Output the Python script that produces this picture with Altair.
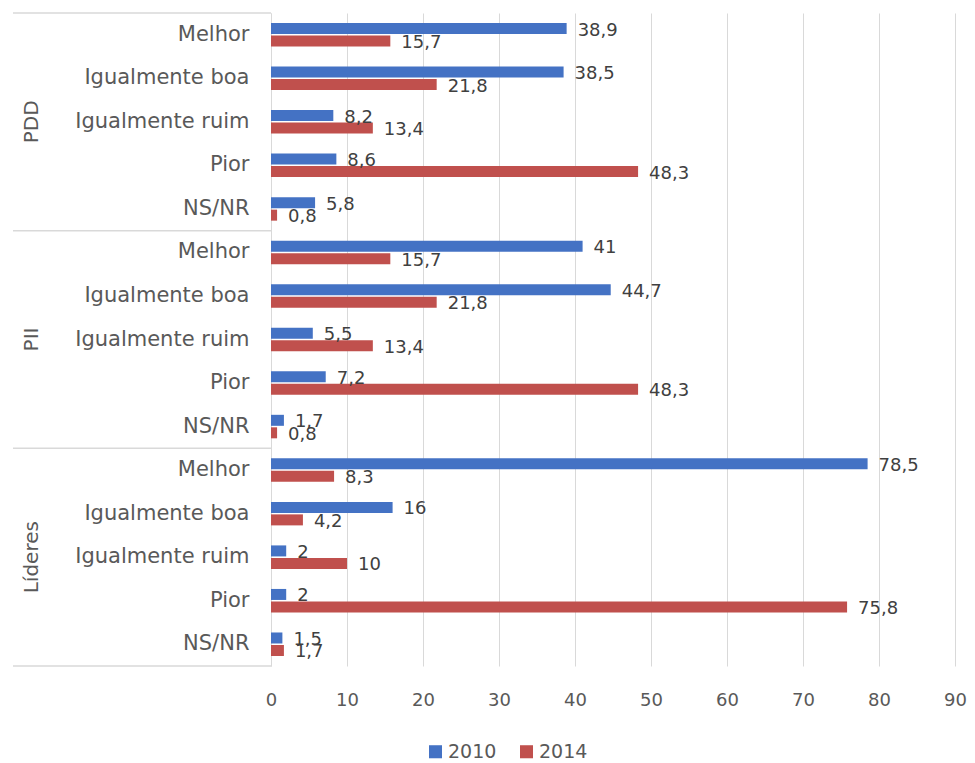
import altair as alt
import pandas as pd

groups = ["PDD", "PII", "Líderes"]
categories = ["Melhor", "Igualmente boa", "Igualmente ruim", "Pior", "NS/NR"]
series = ["2010", "2014"]
colors = ["#4472C4", "#C0504D"]
v2010 = [38.9, 38.5, 8.2, 8.6, 5.8,
         41, 44.7, 5.5, 7.2, 1.7,
         78.5, 16, 2, 2, 1.5]
v2014 = [15.7, 21.8, 13.4, 48.3, 0.8,
         15.7, 21.8, 13.4, 48.3, 0.8,
         8.3, 4.2, 10, 75.8, 1.7]
x_ticks = [0, 10, 20, 30, 40, 50, 60, 70, 80, 90]

FONT = "DejaVu Sans"
GRAY = "#595959"
LINE = "#d9d9d9"
W, H = 684, 653

keys = []
rows = []
for gi, g in enumerate(groups):
    for ci, c in enumerate(categories):
        k = f"{gi}{ci}|{c}"
        keys.append(k)
        idx = gi * len(categories) + ci
        for s, v in zip(series, [v2010[idx], v2014[idx]]):
            rows.append({"key": k, "group": g, "cat": c, "series": s,
                         "value": v, "label": f"{v:g}".replace(".", ",")})
df = pd.DataFrame(rows)

PI = 0.46
PO = PI / 2
step = H / len(keys)
ysc = alt.Scale(domain=keys, paddingInner=PI, paddingOuter=PO)
yoff = alt.YOffset("series:N", sort=series, scale=alt.Scale(domain=series, paddingInner=0.12))
xenc = alt.X("value:Q", scale=alt.Scale(domain=[0, 90]),
             axis=alt.Axis(values=x_ticks, grid=True, gridColor=LINE, domain=False,
                           ticks=False, labelPadding=25, labelFontSize=18, labelFlush=False,
                           labelColor=GRAY, labelFont=FONT, title=None))
yenc = alt.Y("key:N", scale=ysc, sort=keys,
             axis=alt.Axis(title=None, labelExpr="split(datum.label, '|')[1]",
                           labelFontSize=21, labelColor=GRAY, labelFont=FONT,
                           labelPadding=22, ticks=False, domain=True,
                           domainColor=LINE, grid=False))

bars = alt.Chart(df).mark_bar().encode(
    x=xenc, y=yenc, yOffset=yoff,
    color=alt.Color("series:N", scale=alt.Scale(domain=series, range=colors),
                    legend=alt.Legend(title=None, orient="none", direction="horizontal",
                                      legendX=155, legendY=729, symbolType="square",
                                      symbolSize=170, symbolStrokeWidth=0,
                                      labelFontSize=19, labelColor=GRAY, labelFont=FONT,
                                      labelOffset=3, columnPadding=20, symbolOffset=0))
)

texts = alt.Chart(df).mark_text(align="left", baseline="middle", dx=11, dy=2, fontSize=18,
                                 color="#404040", font=FONT).encode(
    x="value:Q", y=alt.Y("key:N", scale=ysc, sort=keys), yOffset=yoff, text="label:N"
)

# group separator lines
top_keys = [f"{gi}0|{categories[0]}" for gi in range(len(groups))]
last_key = [keys[-1]]
gap = PO * step
sep_top = alt.Chart(pd.DataFrame({"key": top_keys})).mark_rule(
    color=LINE, strokeWidth=1.5, yOffset=-gap).encode(
    y=alt.Y("key:N", scale=ysc, sort=keys, bandPosition=0),
    x=alt.value(-258), x2=alt.value(0)
)
sep_bot = alt.Chart(pd.DataFrame({"key": last_key})).mark_rule(
    color=LINE, strokeWidth=1.5, yOffset=gap).encode(
    y=alt.Y("key:N", scale=ysc, sort=keys, bandPosition=1),
    x=alt.value(-258), x2=alt.value(0)
)

mid_keys = [f"{gi}2|{categories[2]}" for gi in range(len(groups))]
glabels = alt.Chart(pd.DataFrame({"key": mid_keys, "group": groups})).mark_text(
    angle=270, align="center", baseline="middle", fontSize=20, color=GRAY, font=FONT
).encode(
    y=alt.Y("key:N", scale=ysc, sort=keys, bandPosition=0.5),
    x=alt.value(-239), text="group:N"
)

chart = alt.layer(bars, texts, sep_top, sep_bot, glabels).properties(
    width=W, height=H,
    padding={"left": 4, "top": 4, "right": 0, "bottom": 0}
).configure_view(stroke=None)

chart.save("out.html", embed_options={"renderer": "svg", "actions": False})
